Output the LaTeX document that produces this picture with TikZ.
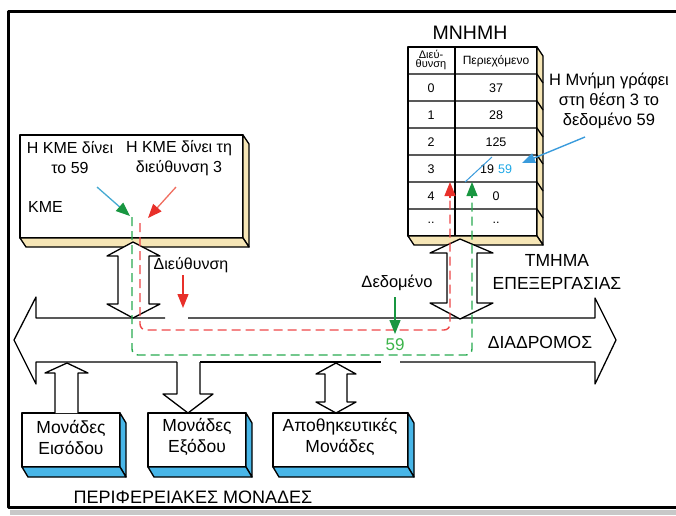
\documentclass[tikz,border=0pt]{standalone}
\usepackage{fontspec}
\setmainfont{Liberation Sans}
\usetikzlibrary{arrows.meta}
\definecolor{beige}{RGB}{246,230,182}
\definecolor{sideblue}{RGB}{72,182,232}
\definecolor{arrred}{RGB}{232,48,42}
\definecolor{salmon}{RGB}{240,110,96}
\definecolor{arrgreen}{RGB}{24,150,64}
\definecolor{cyanish}{RGB}{70,170,210}
\definecolor{dashred}{RGB}{238,70,72}
\definecolor{dashgreen}{RGB}{40,170,80}
\definecolor{txtgreen}{RGB}{60,180,74}
\definecolor{txtblue}{RGB}{30,168,230}
\definecolor{arrblue}{RGB}{58,155,220}
\definecolor{framegrey}{RGB}{200,200,200}
\begin{document}
\begin{tikzpicture}[x=1pt,y=-1pt,
  outl/.style={draw=black,line width=1.3pt,line join=round},
  face/.style={outl,fill=white},
  bface/.style={outl,fill=beige},
  pface/.style={outl,fill=sideblue},
  lbl/.style={inner sep=0pt,align=center,font=\fontsize{16}{20}\selectfont},
  plbl/.style={inner sep=0pt,align=center,font=\fontsize{17.5}{21}\selectfont},
  big/.style={inner sep=0pt,align=center,font=\fontsize{17.5}{23}\selectfont},
  cell/.style={inner sep=0pt,font=\fontsize{12.5}{14}\selectfont},
  rdash/.style={draw=dashred,line width=1.4pt,dash pattern=on 9pt off 5pt,rounded corners=6pt},
  gdash/.style={draw=dashgreen,line width=1.4pt,dash pattern=on 9pt off 5pt,rounded corners=6pt},
  tipred/.style={-{Triangle[length=14pt,width=11pt,color=arrred,fill=arrred]}},
  tipgreen/.style={-{Triangle[length=14pt,width=11pt,color=arrgreen,fill=arrgreen]}},
  tipblue/.style={-{Triangle[length=13pt,width=10pt,color=arrblue,fill=arrblue]}},
]
\useasboundingbox (0,0) rectangle (676,515);
% frame
\fill[framegrey] (10,510) rectangle (676,515);
\draw[line width=3pt,line join=round] (676,11) -- (8,11) -- (8,507) -- (676,507);

% KME box
\draw[face] (20,135) rectangle (243,238);
\draw[bface] (243,135) -- (249,144) -- (249,247) -- (243,238) -- cycle;
\draw[bface] (20,238) -- (243,238) -- (249,247) -- (26,247) -- cycle;

% memory table
\draw[face] (408,47) rectangle (537,236);
\draw[bface] (537,47) -- (543,56) -- (543,245) -- (537,236) -- cycle;
\draw[bface] (408,236) -- (537,236) -- (543,245) -- (414,245) -- cycle;
\foreach \yy in {74,101,128,155,182,209} {
  \draw[outl] (408,\yy) -- (537,\yy) -- (543,\yy+9);
}
\draw[outl] (455,47) -- (455,236);

% peripheral boxes
\draw[face] (22,413) rectangle (120,467);
\draw[pface] (120,413) -- (126,423) -- (126,477) -- (120,467) -- cycle;
\draw[pface] (22,467) -- (120,467) -- (126,477) -- (28,477) -- cycle;
\draw[face] (148,413) rectangle (246,467);
\draw[pface] (246,413) -- (252,423) -- (252,477) -- (246,467) -- cycle;
\draw[pface] (148,467) -- (246,467) -- (252,477) -- (154,477) -- cycle;
\draw[face] (273,413) rectangle (408,467);
\draw[pface] (408,413) -- (414,423) -- (414,477) -- (408,467) -- cycle;
\draw[pface] (273,467) -- (408,467) -- (414,477) -- (279,477) -- cycle;

% bus
\draw[outl] (165,318) -- (36,318) -- (36,297) -- (14,340) -- (36,384) -- (36,362) -- (177,362);
\draw[outl] (188,318) -- (595,318) -- (595,298) -- (616,340) -- (595,384) -- (595,362) -- (400,362);
\draw[outl] (200,362) -- (381,362);

% KME <-> bus
\draw[face] (133,242) -- (160,256) -- (149,256) -- (149,304) -- (160,304) -- (133,318)
  -- (107,304) -- (118,304) -- (118,256) -- (107,256) -- cycle;
% memory <-> bus
\draw[face] (460,239) -- (493,253) -- (477,253) -- (477,303) -- (493,303) -- (460,319)
  -- (430,303) -- (447,303) -- (447,253) -- (430,253) -- cycle;
% input
\draw[face] (55,413) -- (55,373) -- (45,373) -- (67,363) -- (88,373) -- (78,373) -- (78,413);
% output
\draw[face] (177,362) -- (177,394) -- (163,394) -- (188,413) -- (213,394) -- (200,394) -- (200,362);
% storage
\draw[face] (336,363) -- (356,374) -- (347,374) -- (347,402) -- (356,402) -- (336,413)
  -- (316,402) -- (325,402) -- (325,374) -- (316,374) -- cycle;

% coordinates of the data paths
\coordinate (rS) at (140,223);
\coordinate (rC1) at (140,330);
\coordinate (rC2) at (450,330);
\coordinate (rE) at (450,196);
\coordinate (rT) at (450,182);
\coordinate (gS) at (132,217);
\coordinate (gC1) at (132,355);
\coordinate (gC2) at (472,355);
\coordinate (gE) at (472,196);
\coordinate (gT) at (472,182);

\draw[rdash] (rS) -- (rC1) -- (rC2) -- (rE);
\draw[gdash] (gS) -- (gC1) -- (gC2) -- (gE);
\draw[draw=arrred,line width=1.2pt,tipred] (450,198) -- (rT);
\draw[draw=arrgreen,line width=1.2pt,tipgreen] (472,198) -- (gT);

% KME arrows
\coordinate (ka1) at (97,187);
\coordinate (ka2) at (130,216);
\draw[draw=cyanish,line width=1.3pt,tipgreen] (ka1) -- (ka2);
\coordinate (kb1) at (176,187);
\coordinate (kb2) at (148,218);
\draw[draw=salmon,line width=1.3pt,tipred] (kb1) -- (kb2);

% texts
\node[lbl] (t1) at (70,158) {Η ΚΜΕ δίνει\\το 59};
\node[lbl] (t2) at (179,158) {Η ΚΜΕ δίνει τη\\διεύθυνση 3};
\node[lbl,anchor=west] (kme) at (28,207) {ΚΜΕ};
\node[big,font=\fontsize{19.5}{23}\selectfont] (mnhmh) at (470,33) {ΜΝΗΜΗ};
\node[big] (tmhma) at (557,272) {ΤΜΗΜΑ\\ΕΠΕΞΕΡΓΑΣΙΑΣ};
\node[big] (diadr) at (540,342) {ΔΙΑΔΡΟΜΟΣ};
\node[lbl,font=\fontsize{16.5}{20}\selectfont] (mnote) at (609,101) {Η Μνήμη γράφει\\στη θέση 3 το\\δεδομένο 59};
\node[lbl] (dieu) at (191,265) {Διεύθυνση};
\node[lbl,font=\fontsize{16.5}{18}\selectfont] (dedo) at (397,283) {Δεδομένο};
\node[lbl,font=\fontsize{17}{20}\selectfont,text=txtgreen] (n59) at (395,345) {59};
\node[plbl] (p1) at (71,437) {Μονάδες\\Εισόδου};
\node[plbl] (p2) at (197,437) {Μονάδες\\Εξόδου};
\node[plbl] (p3) at (340,437) {Αποθηκευτικές\\Μονάδες};
\node[big,font=\fontsize{18}{22}\selectfont] (periph) at (193,497) {ΠΕΡΙΦΕΡΕΙΑΚΕΣ ΜΟΝΑΔΕΣ};

% table texts
\node[inner sep=0pt,align=center,font=\fontsize{11}{9.5}\selectfont] (h1) at (431,60) {Διεύ-\\θυνση};
\node[inner sep=0pt,font=\fontsize{12}{13}\selectfont] (h2) at (496,61) {Περιεχόμενο};
\node[cell] (a0) at (431,88) {0};
\node[cell] (a1) at (431,115) {1};
\node[cell] (a2) at (431,142) {2};
\node[cell] (a3) at (431,169) {3};
\node[cell] (a4) at (431,196) {4};
\node[cell] (a5) at (431,223) {..};
\node[cell] (c0) at (496,88) {37};
\node[cell] (c1) at (496,115) {28};
\node[cell] (c2) at (496,142) {125};
\node[cell] (c3) at (487,169) {19};
\node[cell,text=txtblue] (c3b) at (505,169) {59};
\node[cell] (c4) at (496,196) {0};
\node[cell] (c5) at (496,223) {..};

% blue pointers
\coordinate (b1) at (585,137);
\coordinate (b2) at (522,163);
\draw[draw=arrblue,line width=1.4pt,tipblue] (b1) -- (b2);
\coordinate (b3) at (492,157);
\coordinate (b4) at (465,182);
\draw[draw=arrblue,line width=1pt] (b3) -- (b4);

% small arrows to bus
\coordinate (d1) at (183,275);
\coordinate (d2) at (183,308);
\draw[draw=arrred,line width=1.2pt,tipred] (d1) -- (d2);
\coordinate (e1) at (395,297);
\coordinate (e2) at (395,334);
\draw[draw=arrgreen,line width=1.2pt,tipgreen] (e1) -- (e2);
\end{tikzpicture}
\end{document}
